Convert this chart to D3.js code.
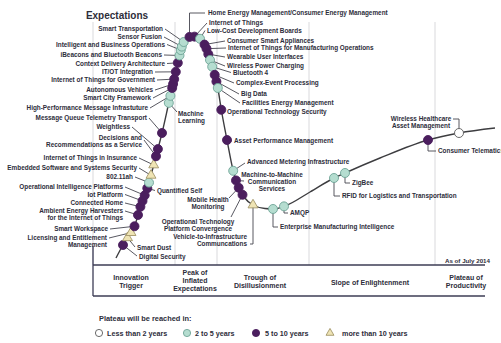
<!DOCTYPE html>
<html><head><meta charset="utf-8">
<script src="https://cdn.jsdelivr.net/npm/d3@7/dist/d3.min.js"></script>
<style>body{margin:0;background:#fff}svg{display:block}</style>
</head><body><svg id="c" width="501" height="343"></svg>
<script>
// ---------- DATA ----------
// Hype curve spine: time (0-100) vs expectations (0-100)
const curveTime   = [5.75,7.5,8.75,10.5,11.75,13.75,15.5,17.25,19,20.25,21.25,22.25,23.25,24.75,26,27.25,28.5,29.25,30.5,31.25,32,33.5,35,36.25,37.75,40,43,45.25,48,54.25,60.25,63,71.75,83.75,91.5,100.5];
const curveExpect = [2.8,8,11.2,16,22.8,31.6,42,52.8,65.2,74,81.2,87.6,90.4,91.4,91.2,89.6,86,82,75.6,70.4,62.8,50,38,31.6,27.2,24,22.6,22.4,23.6,29.2,34.8,36.8,42.8,50,52.8,54.8];

const itemNames = [
 "Digital Security","Smart Dust","Licensing and Entitlement|Management","Smart Workspace",
 "Ambient Energy Harvesters|for the Internet of Things","Connected Home","Iot Platform",
 "Operational Intelligence Platforms","Quantified Self","802.11ah",
 "Embedded Software and Systems Security","Internet of Things in Insurance",
 "Decisions and|Recommendations as a Service","Weightless","Message Queue Telemetry Transport",
 "Machine|Learning","High-Performance Message Infrastuture","Smart City Framework",
 "Autonomous Vehicles","Internet of Things for Government","IT/OT Integration",
 "Context Delivery Architecture","iBeacons and Bluetooth Beacons",
 "Intelligent and Business Operations","Sensor Fusion","Smart Transportation",
 "Home Energy Management/Consumer Energy Management","Internet of Things",
 "Low-Cost Development Boards","Consumer Smart Appliances",
 "Internet of Things for Manufacturing Operations","Wearable User Interfaces",
 "Wireless Power Charging","Bluetooth 4","Complex-Event Processing","Big Data",
 "Facilities Energy Management","Operational Technology Security",
 "Asset Performance Management","Advanced Metering Infrastructure",
 "Machine-to-Machine|Communication|Services","Mobile Health|Monitoring",
 "Operational Technology|Platform Convergence","Vehicle-to-Infrastructure|Communcations",
 "Enterprise Manufacturing Intelligence","AMQP","RFID for Logistics and Transportation",
 "ZigBee","Consumer Telematics","Wireless Healthcare|Asset Management"];
const itemTimes = [7.5,8.625,9.5,10.375,11.25,11.85,12.375,12.925,13.575,14,14.5,15.175,15.75,16.225,17.25,
 18.95,19.35,19.8,20.025,20.3,20.7,21.2,21.625,21.95,22.2,22.675,
 24.125,25.375,26.75,27.875,28.375,28.825,29.25,29.8,30.425,30.85,31.2,32.075,
 33.5,35.05,35.75,36.425,37.375,40,45,47.75,60.25,63,83.75,91.5];
// plateau reached in: lt2, 2to5, 5to10, gt10
const itemStatus = ["5to10","gt10","gt10","5to10","5to10","5to10","5to10","5to10","5to10","2to5",
 "gt10","gt10","5to10","5to10","5to10","2to5","2to5","5to10","5to10","5to10","5to10","5to10",
 "2to5","2to5","2to5","2to5","5to10","5to10","2to5","5to10","5to10","5to10","2to5","2to5",
 "5to10","5to10","2to5","5to10","5to10","2to5","5to10","5to10","5to10","gt10","2to5","2to5",
 "2to5","2to5","5to10","lt2"];

const phaseNames = ["Innovation|Trigger","Peak of|Inflated|Expectations","Trough of|Disillusionment","Slope of Enlightenment","Plateau of|Productivity"];
const phaseBounds = [20.5,31,54,85.5];
const legendTitle = "Plateau will be reached in:";
const legendKeys = ["lt2","2to5","5to10","gt10"];
const legendLabels = ["Less than 2 years","2 to 5 years","5 to 10 years","more than 10 years"];
const yTitle = "Expectations";
const asOf = "As of July 2014";

// ---------- LAYOUT (label placement, px) ----------
// a: anchor, x,y: first line centre, s: leader start (optional), v: elbow y (vertical-first leader), h: elbow end x
const labelLayout = [
 {a:"start",x:139,y:257,s:[137,256]},
 {a:"start",x:137,y:248,s:[135,247]},
 {a:"end",x:107,y:238},
 {a:"end",x:108,y:229},
 {a:"end",x:123,y:211},
 {a:"end",x:123,y:203},
 {a:"end",x:123,y:194.5},
 {a:"end",x:123,y:187},
 {a:"start",x:157,y:191,s:[155,190.5]},
 {a:"end",x:133,y:177},
 {a:"end",x:137,y:168},
 {a:"end",x:137,y:158},
 {a:"end",x:142,y:138,s:[144,140]},
 {a:"end",x:130,y:127},
 {a:"end",x:147,y:118},
 {a:"start",x:178,y:114,s:[177,112]},
 {a:"end",x:148,y:108},
 {a:"end",x:151,y:98},
 {a:"end",x:153,y:90},
 {a:"end",x:155,y:80},
 {a:"end",x:153,y:72},
 {a:"end",x:165,y:63.5},
 {a:"end",x:162,y:55},
 {a:"end",x:165,y:44.5},
 {a:"end",x:162,y:37},
 {a:"end",x:163,y:29},
 {a:"start",x:208,y:13,v:13,h:205},
 {a:"start",x:209,y:23},
 {a:"start",x:207,y:30.5},
 {a:"start",x:227,y:41},
 {a:"start",x:228,y:48},
 {a:"start",x:227,y:57},
 {a:"start",x:227,y:66},
 {a:"start",x:233,y:72.5},
 {a:"start",x:236,y:83},
 {a:"start",x:241,y:94},
 {a:"start",x:242,y:103},
 {a:"start",x:227,y:111.5},
 {a:"start",x:234,y:141},
 {a:"start",x:247,y:162,s:[245,163]},
 {a:"middle",x:272,y:175,s:[244,181]},
 {a:"middle",x:208,y:200,s:[229,198]},
 {a:"middle",x:198,y:222,s:[231,217]},
 {a:"end",x:247,y:237,v:244,h:250},
 {a:"start",x:280,y:227,v:227,h:278},
 {a:"start",x:290,y:213,v:213,h:288},
 {a:"start",x:342,y:196,v:196,h:340},
 {a:"start",x:352,y:183,v:183,h:350},
 {a:"start",x:438,y:151,v:151,h:436},
 {a:"middle",x:421,y:119,v:119,h:453}
];

// ---------- DRAW ----------
const W = 501, H = 343;
const svg = d3.select("#c");
const F = "'Liberation Sans', Arial, Helvetica, sans-serif";
const TXT = "#2d2d3a";
const x = d3.scaleLinear().domain([0,100]).range([93,493]);
const y = d3.scaleLinear().domain([0,100]).range([265,15]);
const plotRight = x(98);
const axisY = y(0), bandBottom = 296, gridTop = 22;

// grid
svg.selectAll("line.grid").data(phaseBounds).join("line")
  .attr("x1",d=>x(d)).attr("x2",d=>x(d)).attr("y1",gridTop).attr("y2",axisY)
  .attr("stroke","#d9d9dc").attr("stroke-width",1);
svg.append("line").attr("x1",x(0)).attr("x2",x(0)).attr("y1",gridTop).attr("y2",axisY)
  .attr("stroke","#d9d9dc");
svg.append("line").attr("x1",x(0)).attr("x2",x(0)).attr("y1",246).attr("y2",bandBottom)
  .attr("stroke","#3c3c55").attr("stroke-width",1.3);
[axisY,bandBottom].forEach(v=>svg.append("line").attr("x1",x(0)).attr("x2",plotRight)
  .attr("y1",v).attr("y2",v).attr("stroke","#3c3c55").attr("stroke-width",1.5));

// title
svg.append("text").attr("x",117).attr("y",15).attr("dy","0.35em").attr("text-anchor","middle")
  .attr("font-family",F).attr("font-weight","bold").attr("font-size",10).attr("fill",TXT).text(yTitle);
svg.append("text").attr("x",490).attr("y",261).attr("dy","0.35em").attr("text-anchor","end")
  .attr("font-family",F).attr("font-weight","bold").attr("font-size",6.2).attr("fill",TXT).text(asOf);

// phases
const phaseCenters = [131,195,260,370,466];
const phaseTops = [278,273,278,283,278];
phaseNames.forEach((p,i)=>{
  p.split("|").forEach((ln,j)=>{
    svg.append("text").attr("x",phaseCenters[i]).attr("y",phaseTops[i]+j*8).attr("dy","0.35em")
      .attr("text-anchor","middle").attr("font-family",F).attr("font-weight","bold")
      .attr("font-size",7).attr("fill",TXT).text(ln);
  });
});

// curve
const pts = curveTime.map((t,i)=>[x(t),y(curveExpect[i])]);
const path = svg.append("path").attr("d",d3.line().curve(d3.curveMonotoneX)(pts))
  .attr("fill","none").attr("stroke","#3d3d40").attr("stroke-width",1.4);
const node = path.node(), L = node.getTotalLength();
const samples = d3.range(0,L+0.25,0.25).map(l=>{const p=node.getPointAtLength(l);return [p.x,p.y];});
const bis = d3.bisector(d=>d[0]).left;
function yAt(px){
  const i = Math.max(1,Math.min(samples.length-1,bis(samples,px)));
  const a=samples[i-1], b=samples[i];
  const f = b[0]===a[0]?0:(px-a[0])/(b[0]-a[0]);
  return a[1]+f*(b[1]-a[1]);
}

const items = itemNames.map((n,i)=>{
  const mx = x(itemTimes[i]);
  return {name:n, status:itemStatus[i], mx, my:yAt(mx), lay:labelLayout[i]};
});

// leaders
const leaderG = svg.append("g");
items.forEach(d=>{
  const l = d.lay; let ptsL;
  if (l.v!==undefined) ptsL = [[d.mx,d.my],[d.mx,l.v],[l.h,l.v]];
  else {
    const s = l.s || (l.a==="end"?[l.x+2,l.y]:[l.x-2,l.y]);
    ptsL = [s,[d.mx,d.my]];
  }
  leaderG.append("path").attr("d",d3.line()(ptsL)).attr("fill","none")
    .attr("stroke","#45454f").attr("stroke-width",0.9);
});

// labels
items.forEach(d=>{
  const l = d.lay;
  d.name.split("|").forEach((ln,j)=>{
    svg.append("text").attr("x",l.x).attr("y",l.y+j*7).attr("dy","0.35em")
      .attr("text-anchor",l.a).attr("font-family",F).attr("font-weight","bold")
      .attr("font-size",6.4).attr("fill",TXT).text(ln);
  });
});

// markers
const style = {
  lt2:{fill:"#ffffff",stroke:"#5a5a5a"},
  "2to5":{fill:"#b5ddd0",stroke:"#6ea496"},
  "5to10":{fill:"#4b1e5e",stroke:"#4b1e5e"},
  gt10:{fill:"#efe4b4",stroke:"#a3966a"}
};
function drawMarker(g,st,cx,cy,r){
  if (st==="gt10"){
    g.append("path").attr("d",d3.symbol(d3.symbolTriangle,r*r*2.1)())
      .attr("transform",`translate(${cx},${cy})`)
      .attr("fill",style[st].fill).attr("stroke",style[st].stroke).attr("stroke-width",0.9);
  } else {
    g.append("circle").attr("cx",cx).attr("cy",cy).attr("r",r)
      .attr("fill",style[st].fill).attr("stroke",style[st].stroke).attr("stroke-width",0.9);
  }
}
const mg = svg.append("g");
items.forEach(d=>drawMarker(mg,d.status,d.mx,d.my,4.5));

// legend
svg.append("text").attr("x",99).attr("y",318).attr("dy","0.35em").attr("font-family",F)
  .attr("font-weight","bold").attr("font-size",7.4).attr("fill",TXT).text(legendTitle);
const legX = [99,187,256,330], legTX = [107,195,265,342];
legendKeys.forEach((k,i)=>{
  drawMarker(svg,k,legX[i],333,3.6);
  svg.append("text").attr("x",legTX[i]).attr("y",333).attr("dy","0.35em").attr("font-family",F)
    .attr("font-weight","bold").attr("font-size",7.2).attr("fill",TXT).text(legendLabels[i]);
});
</script>
</body></html>
